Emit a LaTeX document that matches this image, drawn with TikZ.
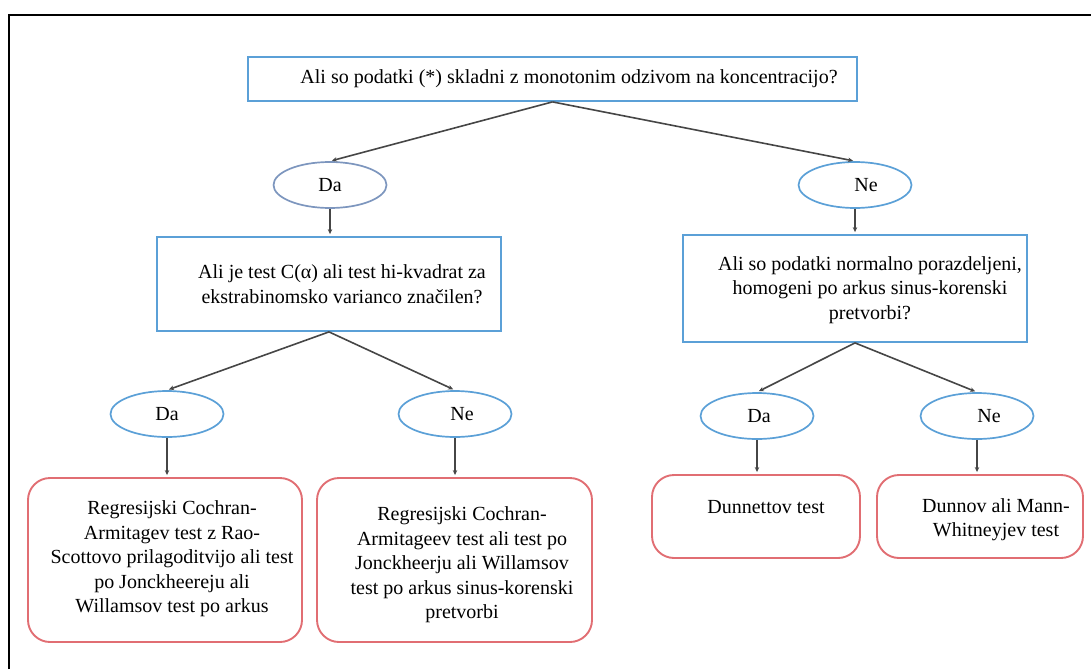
\documentclass[tikz,border=0pt]{standalone}
\usepackage{fontspec}
\setmainfont{Liberation Serif}
\usetikzlibrary{shapes.geometric,arrows.meta,calc}
\definecolor{bbl}{RGB}{91,160,215}
\definecolor{bgr}{RGB}{125,150,190}
\definecolor{rbx}{RGB}{225,110,115}
\definecolor{arrc}{RGB}{70,70,70}
\begin{document}
\begin{tikzpicture}[x=1pt,y=-1pt,
  bluebox/.style={draw=bbl, line width=1.8pt, rectangle, inner sep=0pt},
  redbox/.style={draw=rbx, line width=1.9pt, rectangle, rounded corners=22pt, inner sep=0pt},
  oval/.style={ellipse, draw=bbl, line width=1.7pt, minimum width=113pt, minimum height=46pt, inner sep=0pt, font=\fontsize{20}{24.5}\selectfont},
  txt/.style={font=\fontsize{20}{24.5}\selectfont, align=center, inner sep=0pt},
  arr/.style={draw=arrc, line width=1.6pt, -{Stealth[length=5pt,width=4.5pt]}, shorten >=2pt}]
\useasboundingbox (0,0) rectangle (1091,669);
% frame
\coordinate (fb) at (9,669);
\coordinate (fc) at (9,15);
\coordinate (fr) at (1091,15);
\draw[line width=1.8pt, black] (fb) -- (fc) -- (fr);

% question boxes
\node[bluebox, minimum width=609pt, minimum height=44pt] (q1) at (552.5,79) {};
\node[txt] (q1t) at (569,79) {Ali so podatki (*) skladni z monotonim odzivom na koncentracijo?};

\node[oval, draw=bgr] (d1) at (330,185) {Da};
\node[oval] (n1) at (855,185) {\hspace*{22pt}Ne};

\node[bluebox, minimum width=344pt, minimum height=94pt] (q2) at (329,284) {};
\node[txt] (q2t) at (342,284) {Ali je test C(α) ali test hi-kvadrat za\\ekstrabinomsko varianco značilen?};

\node[bluebox, minimum width=344pt, minimum height=107pt] (q3) at (855,288.5) {};
\node[txt] (q3t) at (870,290) {Ali so podatki normalno porazdeljeni,\\homogeni po arkus sinus-korenski\\pretvorbi?};

\node[oval] (d2) at (167,414) {Da};
\node[oval] (n2) at (455,414) {\hspace*{14pt}Ne};
\node[oval] (d3) at (757,416) {\hspace*{4pt}Da};
\node[oval] (n3) at (977,416) {\hspace*{24pt}Ne};

% result boxes
\node[redbox, minimum width=274pt, minimum height=164pt] (r1) at (165,560) {};
\node[txt] (r1t) at (172,559) {Regresijski Cochran-\\Armitagev test z Rao-\\Scottovo prilagoditvijo ali test\\po Jonckheereju ali\\Willamsov test po arkus};

\node[redbox, minimum width=275pt, minimum height=164pt] (r2) at (454.5,560) {};
\node[txt] (r2t) at (462,565) {Regresijski Cochran-\\Armitageev test ali test po\\Jonckheerju ali Willamsov\\test po arkus sinus-korenski\\pretvorbi};

\node[redbox, minimum width=208pt, minimum height=83pt] (r3) at (756,516.5) {};
\node[txt] (r3t) at (766,507) {Dunnettov test};

\node[redbox, minimum width=206pt, minimum height=83pt] (r4) at (980,516.5) {};
\node[txt] (r4t) at (996,519.5) {Dunnov ali Mann-\\Whitneyjev test};

% connectors
\draw[arr] (q1.south) -- (d1.north);
\draw[arr] (q1.south) -- (n1.north);
\draw[arr] (d1.south) -- (q2.north -| d1.south);
\draw[arr] (n1.south) -- (q3.north -| n1.south);
\draw[arr] (q2.south) -- (d2.north);
\draw[arr] (q2.south) -- (n2.north);
\draw[arr] (q3.south) -- (d3.north);
\draw[arr] (q3.south) -- (n3.north);
\draw[arr] (d2.south) -- (r1.north -| d2.south);
\draw[arr] (n2.south) -- (r2.north -| n2.south);
\draw[arr] (d3.south) -- (r3.north -| d3.south);
\draw[arr] (n3.south) -- (r4.north -| n3.south);
\end{tikzpicture}
\end{document}
